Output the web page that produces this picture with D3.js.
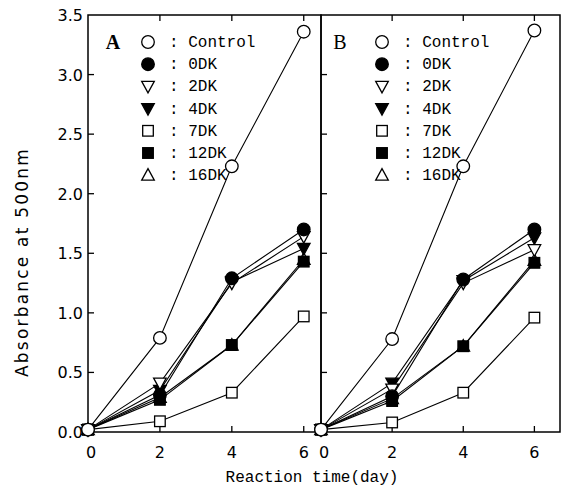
<!DOCTYPE html>
<html>
<head>
<meta charset="utf-8">
<script src="https://cdn.jsdelivr.net/npm/d3@7"></script>
<style>
  body { margin: 0; background: #fff; }
  svg { display: block; }
</style>
</head>
<body>
<svg id="plot" width="566" height="487"></svg>
<script>
// data
const days = [0, 2, 4, 6];
const seriesNames = ["Control", "0DK", "2DK", "4DK", "7DK", "12DK", "16DK"];
const symbolKinds = ["circleOpen", "circleFilled", "triDownOpen", "triDownFilled", "squareOpen", "squareFilled", "triUpOpen"];

const panelA = [
    [0.02, 0.79, 2.23, 3.36],  // Control
    [0.02, 0.31, 1.29, 1.70],  // 0DK
    [0.02, 0.41, 1.25, 1.64],  // 2DK
    [0.02, 0.35, 1.26, 1.54],  // 4DK
    [0.02, 0.09, 0.33, 0.97],  // 7DK
    [0.02, 0.27, 0.73, 1.43],  // 12DK
    [0.02, 0.29, 0.73, 1.45]   // 16DK
];
const panelB = [
    [0.02, 0.78, 2.23, 3.37],
    [0.02, 0.30, 1.28, 1.70],
    [0.02, 0.36, 1.25, 1.53],
    [0.02, 0.41, 1.27, 1.63],
    [0.02, 0.08, 0.33, 0.96],
    [0.02, 0.26, 0.72, 1.42],
    [0.02, 0.28, 0.72, 1.44]
];
const yTicks = [0, 0.5, 1.0, 1.5, 2.0, 2.5, 3.0, 3.5];
const xTicks = [0, 2, 4, 6];

const svg = d3.select("#plot");
const plotTop = 15, plotBottom = 432;

const y = d3.scaleLinear().domain([0, 3.5]).range([plotBottom, plotTop]);

const panels = [
    { label: "A", data: panelA, left: 88, right: 321, xmax: 6.48, legendX: 148, labelX: 113, bold: true },
    { label: "B", data: panelB, left: 321, right: 560, xmax: 6.72, legendX: 382, labelX: 340, bold: false }
];

// draw one marker at (cx, cy)
function marker(g, kind, cx, cy) {
    const open = kind.endsWith("Open");
    const fill = open ? "#fff" : "#000";
    if (kind.startsWith("circle")) {
        g.append("circle").attr("cx", cx).attr("cy", cy).attr("r", 6.3)
            .attr("fill", fill).attr("stroke", "#000").attr("stroke-width", 1.3);
    } else if (kind.startsWith("square")) {
        g.append("rect").attr("x", cx - 5.3).attr("y", cy - 5.3).attr("width", 10.6).attr("height", 10.6)
            .attr("fill", fill).attr("stroke", "#000").attr("stroke-width", 1.3);
    } else {
        const s = kind.startsWith("triDown") ? 1 : -1;
        const pts = [[cx - 6.3, cy - 5 * s], [cx + 6.3, cy - 5 * s], [cx, cy + 6.5 * s]];
        g.append("polygon").attr("points", pts.map(p => p.join(",")).join(" "))
            .attr("fill", fill).attr("stroke", "#000").attr("stroke-width", 1.3);
    }
}

panels.forEach(p => {
    const x = d3.scaleLinear().domain([0, p.xmax]).range([p.left, p.right]);
    const g = svg.append("g");

    // frame
    g.append("rect")
        .attr("x", p.left).attr("y", plotTop)
        .attr("width", p.right - p.left).attr("height", plotBottom - plotTop)
        .attr("fill", "none").attr("stroke", "#000").attr("stroke-width", 1.5);

    // x ticks, inward at bottom and top
    xTicks.filter(d => d > 0).forEach(d => {
        g.append("line").attr("x1", x(d)).attr("x2", x(d))
            .attr("y1", plotBottom).attr("y2", plotBottom - 6)
            .attr("stroke", "#000").attr("stroke-width", 1.3);
        g.append("line").attr("x1", x(d)).attr("x2", x(d))
            .attr("y1", plotTop).attr("y2", plotTop + 6)
            .attr("stroke", "#000").attr("stroke-width", 1.3);
    });
    xTicks.forEach(d => {
        g.append("text")
            .attr("x", x(d) + (d === 0 ? 3 : 0)).attr("y", 458)
            .attr("text-anchor", "middle")
            .attr("font-family", "DejaVu Sans").attr("font-size", 16)
            .text(d);
    });

    // y ticks, inward on the left edge
    yTicks.filter(d => d > 0 && d < 3.5).forEach(d => {
        g.append("line").attr("x1", p.left).attr("x2", p.left + 6)
            .attr("y1", y(d)).attr("y2", y(d))
            .attr("stroke", "#000").attr("stroke-width", 1.3);
    });

    // lines
    const line = d3.line().x((d, i) => x(days[i])).y(d => y(d));
    p.data.forEach(vals => {
        g.append("path").attr("d", line(vals))
            .attr("fill", "none").attr("stroke", "#000").attr("stroke-width", 1.1);
    });

    // markers, control drawn last so it sits on top
    for (let s = p.data.length - 1; s >= 0; s--) {
        p.data[s].forEach((v, i) => marker(g, symbolKinds[s], x(days[i]), y(v)));
    }

    // panel letter
    g.append("text")
        .attr("x", p.labelX).attr("y", 49)
        .attr("text-anchor", "middle")
        .attr("font-family", "Liberation Serif").attr("font-size", 20)
        .attr("font-weight", p.bold ? "bold" : "normal")
        .text(p.label);

    // legend
    seriesNames.forEach((name, i) => {
        const ly = 42 + i * 22.2;
        marker(g, symbolKinds[i], p.legendX, ly);
        g.append("text")
            .attr("x", p.legendX + 21).attr("y", ly + 5)
            .attr("font-family", "Liberation Mono").attr("font-size", 16)
            .attr("xml:space", "preserve")
            .text(": " + name);
    });
});

// y tick labels
yTicks.forEach(d => {
    svg.append("text")
        .attr("x", 83).attr("y", y(d) + 6)
        .attr("text-anchor", "end")
        .attr("font-family", "DejaVu Sans").attr("font-size", 16)
        .text(d.toFixed(1));
});

// axis titles
svg.append("text")
    .attr("transform", "translate(28,262) rotate(-90)")
    .attr("text-anchor", "middle")
    .attr("font-family", "DejaVu Sans").attr("font-size", 17)
    .attr("letter-spacing", 2.2)
    .text("Absorbance at 500nm");

svg.append("text")
    .attr("x", 312).attr("y", 482)
    .attr("text-anchor", "middle")
    .attr("font-family", "Liberation Mono").attr("font-size", 16)
    .text("Reaction time(day)");
</script>
</body>
</html>
